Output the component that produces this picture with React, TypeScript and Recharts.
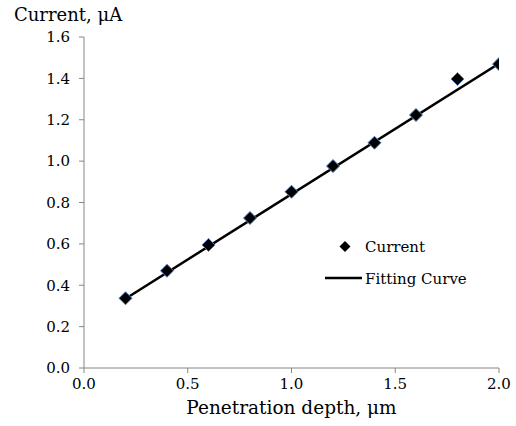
import React from 'react';
import { ComposedChart, Scatter, Line, XAxis, YAxis, Label } from 'recharts';

const depth = [0.2, 0.4, 0.6, 0.8, 1.0, 1.2, 1.4, 1.6, 1.8, 2.0];
const current = [0.337, 0.47, 0.595, 0.725, 0.852, 0.976, 1.089, 1.223, 1.397, 1.469];
const fitDepth = [0.2, 2.0];
const fitCurrent = [0.335, 1.472];
const xTicks = [0, 0.5, 1.0, 1.5, 2.0];
const yTicks = [0, 0.2, 0.4, 0.6, 0.8, 1.0, 1.2, 1.4, 1.6];
const legendNames = ['Current', 'Fitting Curve'];

const pointData = depth.map((x, i) => ({ x, y: current[i] }));
const fitData = fitDepth.map((x, i) => ({ x, y: fitCurrent[i] }));

const FONT = 'DejaVu Serif';
const AXIS = '#868686';

const Diamond = (props: any) => {
  const { cx, cy } = props;
  const r = 6.5;
  return (
    <polygon
      points={`${cx},${cy - r} ${cx + r},${cy} ${cx},${cy + r} ${cx - r},${cy}`}
      fill="#000"
      stroke="#4f81bd"
      strokeWidth={1}
    />
  );
};

const LegendOverlay = () => (
  <svg width={180} height={72} style={{ position: 'absolute', left: 325, top: 232 }}>
    <polygon points="20,9 25.5,14.5 20,20 14.5,14.5" fill="#000" />
    <text x={40} y={20} fontFamily={FONT} fontSize={15} fill="#000">{legendNames[0]}</text>
    <line x1={0} y1={46} x2={37} y2={46} stroke="#000" strokeWidth={2.5} />
    <text x={40} y={52} fontFamily={FONT} fontSize={15} fill="#000">{legendNames[1]}</text>
  </svg>
);

export default function App() {
  return (
    <div style={{ position: 'absolute', left: 0, top: 0, width: 516, height: 426, background: '#fff' }}>
      <ComposedChart width={516} height={426} margin={{ top: 37, right: 17, bottom: 28, left: 24 }}>
        <XAxis
          type="number"
          dataKey="x"
          domain={[0, 2]}
          ticks={xTicks}
          tickFormatter={(v: number) => v.toFixed(1)}
          stroke={AXIS}
          tick={{ fill: '#000', fontFamily: FONT, fontSize: 15 }}
          tickSize={5}
          tickMargin={5}
          height={30}
          allowDataOverflow
        >
          <Label
            value="Penetration depth, μm"
            position="bottom"
            offset={3}
            style={{ fill: '#000', fontFamily: FONT, fontSize: 18.5 }}
          />
        </XAxis>
        <YAxis
          type="number"
          dataKey="y"
          domain={[0, 1.6]}
          ticks={yTicks}
          tickFormatter={(v: number) => v.toFixed(1)}
          stroke={AXIS}
          tick={{ fill: '#000', fontFamily: FONT, fontSize: 15 }}
          tickSize={5}
          tickMargin={9}
          width={60}
          allowDataOverflow
        >
          <Label
            content={(p: any) => {
              const vb = p.viewBox || { x: 24, y: 37 };
              return (
                <text x={vb.x - 10} y={vb.y - 16} fontFamily={FONT} fontSize={18} fill="#000">
                  Current, μA
                </text>
              );
            }}
          />
        </YAxis>
        <Line
          data={fitData}
          dataKey="y"
          type="linear"
          stroke="#000"
          strokeWidth={2.5}
          dot={false}
          activeDot={false}
          isAnimationActive={false}
        />
        <Scatter data={pointData} dataKey="y" shape={Diamond} isAnimationActive={false} />
      </ComposedChart>
      <LegendOverlay />
    </div>
  );
}
